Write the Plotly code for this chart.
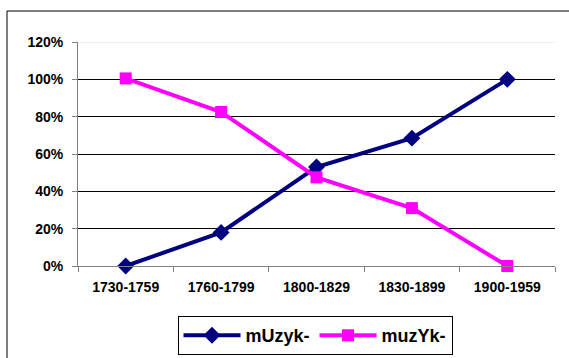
import plotly.graph_objects as go

categories = ["1730-1759", "1760-1799", "1800-1829", "1830-1899", "1900-1959"]
muzyk_upper = [0.0, 0.18, 0.53, 0.685, 1.0]
muzyk_lower = [1.005, 0.825, 0.475, 0.31, 0.0]
y_ticks = [0, 0.2, 0.4, 0.6, 0.8, 1.0, 1.2]
y_labels = ["0%", "20%", "40%", "60%", "80%", "100%", "120%"]

W, H = 569, 358
L, R, T, B = 78, 14, 42, 92
pw, ph = W - L - R, H - T - B

def px_x(x):
    return (x - L) / pw

def px_y(y):
    return (H - B - y) / ph

font = "Liberation Sans, Arial, sans-serif"

fig = go.Figure()
fig.add_trace(go.Scatter(
    x=categories, y=muzyk_upper, name="mUzyk-", mode="lines+markers",
    line=dict(color="#000080", width=4),
    marker=dict(symbol="diamond", size=13, color="#000080"),
    cliponaxis=False,
))
fig.add_trace(go.Scatter(
    x=categories, y=muzyk_lower, name="muzYk-", mode="lines+markers",
    line=dict(color="#FF00FF", width=4),
    marker=dict(symbol="square", size=12, color="#FF00FF"),
    cliponaxis=False,
))

fig.update_layout(
    width=W, height=H,
    margin=dict(l=L, r=R, t=T, b=B, pad=0, autoexpand=False),
    paper_bgcolor="white", plot_bgcolor="white",
    showlegend=True,
    legend=dict(
        orientation="h", xref="container", yref="container",
        x=315 / W, xanchor="center",
        y=(H - 355) / H, yanchor="bottom",
        bordercolor="#000000", borderwidth=1,
        font=dict(family=font, size=18, color="black", weight="bold"),
        itemwidth=57, tracegroupgap=0,
    ),
    xaxis=dict(
        type="category", range=[-0.5, 4.5], automargin=False,
        showgrid=False, showline=True, linecolor="#808080", linewidth=1,
        ticks="outside", tickson="boundaries", ticklen=5, tickcolor="#808080",
        ticklabelstandoff=8,
        tickfont=dict(family=font, size=14, color="black", weight="bold"),
    ),
    yaxis=dict(
        range=[0, 1.2], tickvals=y_ticks, ticktext=y_labels, automargin=False,
        showgrid=True, gridcolor="#000000", gridwidth=1,
        showline=True, linecolor="#808080", linewidth=1,
        ticks="outside", ticklen=5, tickcolor="#808080",
        ticklabelstandoff=6, zeroline=False,
        tickfont=dict(family=font, size=14, color="black", weight="bold"),
    ),
    shapes=[
        dict(type="line", xref="paper", yref="y", x0=0, x1=1, y0=1.2, y1=1.2,
             line=dict(color="#dddddd", width=1), layer="above"),
        dict(type="rect", xref="paper", yref="paper",
             x0=px_x(7), x1=px_x(700), y0=px_y(11), y1=px_y(500),
             line=dict(color="black", width=1), layer="below"),
    ],
)

fig.write_html(
    "out.html",
    config={"displayModeBar": False},
    post_script="document.body.style.margin='0';document.body.style.overflow='hidden';",
)
